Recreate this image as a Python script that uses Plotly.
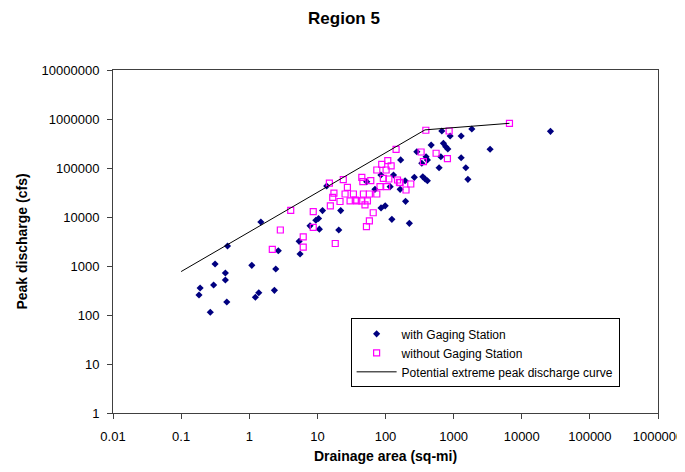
import plotly.graph_objects as go

# ---- data ----
gauged_area = [0.183, 0.19, 0.268, 0.30, 0.315, 0.446, 0.446, 0.468, 0.48, 1.09,
               1.23, 1.38, 1.48, 2.34, 2.45, 2.67, 5.4, 5.57, 7.8, 9.5,
               10.4, 10.7, 11.9, 13.7, 20.6, 22, 53, 70, 86, 99,
               85.5, 117, 124, 131, 164, 167, 194, 197, 224, 265,
               288, 341, 353, 381, 394, 412, 412, 468, 612, 649,
               671, 708, 767, 822, 889, 1290, 1290, 1510, 1620, 1850,
               3430, 26400]
gauged_q = [256, 356, 114, 409, 1100, 720, 518, 184, 2560, 1030,
            230, 285, 7900, 319, 869, 2050, 3190, 1760, 6600, 8600,
            9300, 5650, 13500, 43000, 5430, 13500, 52500, 36700, 15300, 16900,
            72000, 41600, 8970, 72000, 36700, 146000, 55000, 20900, 7430, 64600,
            215000, 125000, 66400, 59700, 170000, 146000, 55000, 294000, 101000, 170000,
            569000, 319000, 272000, 244000, 450000, 450000, 162000, 101000, 58700, 625000,
            241000, 561000]

ungauged_area = [2.18, 2.86, 4.06, 6.2, 6.2, 8.7, 8.7, 15, 15.5, 16.8,
                 17.5, 18.3, 21.5, 24, 25.5, 27.6, 30.2, 33.8, 36, 37.9,
                 44.9, 44.9, 46.5, 47.4, 50, 52.5, 54.3, 58, 58, 60.8,
                 66, 74.5, 74.5, 83, 88, 93, 102, 104, 108, 112,
                 121, 143, 150, 160, 164, 200, 235, 333, 360, 391,
                 553, 811, 859, 6600]
ungauged_q = [2190, 5430, 13600, 3930, 2420, 12900, 6170, 49000, 16800, 25200,
              30800, 2880, 20700, 58000, 29500, 40400, 21300, 29500, 22200, 21400,
              64600, 21400, 52500, 29500, 17600, 6340, 21400, 8300, 29500, 55000,
              12200, 91000, 29500, 41600, 119000, 61600, 91000, 41600, 141000, 59700,
              110000, 241000, 56900, 51000, 50100, 35600, 47100, 212000, 135000, 590000,
              200000, 155000, 569000, 817000]

curve_area = [0.1, 380, 6600]
curve_q = [770, 600000, 817000]

x_tickvals = [0.01, 0.1, 1, 10, 100, 1000, 10000, 100000, 1000000]
x_ticktext = ["0.01", "0.1", "1", "10", "100", "1000", "10000", "100000", "1000000"]
y_tickvals = [1, 10, 100, 1000, 10000, 100000, 1000000, 10000000]
y_ticktext = ["1", "10", "100", "1000", "10000", "100000", "1000000", "10000000"]

FONT = "Arial, Liberation Sans, sans-serif"

# the page body has an 8px margin, so the figure is laid out 8px smaller
W, H = 677, 464

fig = go.Figure()
fig.add_trace(go.Scatter(
    x=gauged_area, y=gauged_q, mode="markers", name="with Gaging Station",
    marker=dict(symbol="diamond", size=5.5, color="#000080",
                line=dict(width=0))))
fig.add_trace(go.Scatter(
    x=ungauged_area, y=ungauged_q, mode="markers", name="without Gaging Station",
    marker=dict(symbol="square-open", size=6, color="#FF00FF",
                line=dict(width=1.2, color="#FF00FF"))))
fig.add_trace(go.Scatter(
    x=curve_area, y=curve_q, mode="lines",
    name="Potential extreme peak discharge curve",
    line=dict(color="black", width=1)))

fig.update_layout(
    width=W, height=H,
    margin=dict(l=105, r=27, t=62, b=59, autoexpand=False),
    paper_bgcolor="white", plot_bgcolor="white",
    font=dict(family=FONT, size=12, color="black"),
    title=dict(text="<b>Region 5</b>", x=336 / W, xref="container", xanchor="center",
               y=1 - 10 / H, yref="container", yanchor="middle",
               font=dict(family=FONT, size=17, color="black")),
    showlegend=True,
    legend=dict(x=0.436, y=0.276, xanchor="left", yanchor="top",
                bgcolor="white", bordercolor="black", borderwidth=1,
                font=dict(family=FONT, size=12, color="black"),
                tracegroupgap=0, itemwidth=40),
)

fig.update_xaxes(
    type="log", range=[-2, 6], tickvals=x_tickvals, ticktext=x_ticktext,
    showgrid=False, zeroline=False, showline=True, linecolor="#404040", linewidth=1,
    mirror=True, ticks="outside", ticklen=5, tickcolor="#404040",
    ticklabelstandoff=6,
    tickfont=dict(family=FONT, size=13, color="black"),
    title=dict(text="<b>Drainage area (sq-mi)</b>", standoff=8,
               font=dict(family=FONT, size=14, color="black")))
fig.update_yaxes(
    type="log", range=[0, 7], tickvals=y_tickvals, ticktext=y_ticktext,
    showgrid=False, zeroline=False, showline=True, linecolor="#404040", linewidth=1,
    mirror=True, ticks="outside", ticklen=5, tickcolor="#404040",
    ticklabelstandoff=5,
    tickfont=dict(family=FONT, size=13, color="black"),
    title=dict(text="<b>Peak discharge (cfs)</b>", standoff=10,
               font=dict(family=FONT, size=14, color="black")))

fig.write_html("out.html")
